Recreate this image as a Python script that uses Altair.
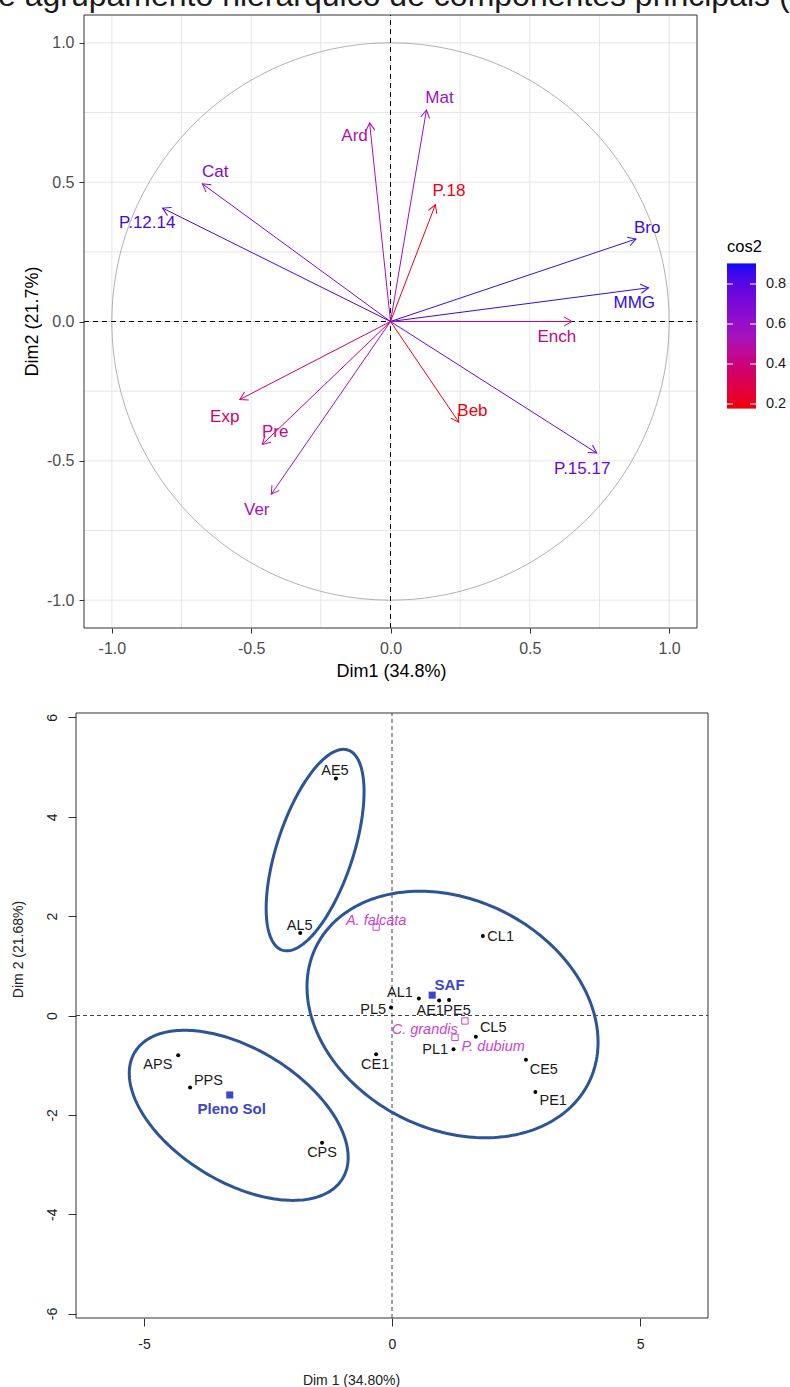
import numpy as np
import pandas as pd
import altair as alt

FONT = "Liberation Sans"
MINUS = "\u2212"

caption = ["e agrupamento hierárquico de componentes principais ("]

# ---------------- top panel: variables (correlation circle) ----------------
var_names = ["Ard", "Mat", "P.18", "Bro", "MMG", "Ench", "Cat", "P.12.14",
             "Exp", "Pre", "Ver", "Beb", "P.15.17"]
var_dim1 = [-0.075, 0.129, 0.161, 0.881, 0.926, 0.651, -0.675, -0.818,
            -0.541, -0.460, -0.428, 0.245, 0.740]
var_dim2 = [0.713, 0.759, 0.419, 0.296, 0.121, 0.000, 0.494, 0.407,
            -0.280, -0.441, -0.620, -0.361, -0.472]
var_cos2 = [0.51, 0.59, 0.20, 0.86, 0.87, 0.42, 0.70, 0.84,
            0.37, 0.41, 0.57, 0.19, 0.77]
var_label_dim1 = [-0.129, 0.176, 0.210, 0.921, 0.875, 0.597, -0.629, -0.873,
                  -0.595, -0.414, -0.480, 0.294, 0.688]
var_label_dim2 = [0.667, 0.803, 0.470, 0.337, 0.065, -0.054, 0.538, 0.355,
                  -0.344, -0.398, -0.677, -0.323, -0.530]

top_domain = [-1.1, 1.1]
top_ticks = [-1.0, -0.5, 0.0, 0.5, 1.0]
top_minor = [-0.75, -0.25, 0.25, 0.75]
cos2_domain = [0.18, 0.54, 0.90]
cos2_colors = ["#F00000", "#A514BE", "#0A0AF5"]
cos2_ticks = [0.2, 0.4, 0.6, 0.8]
legend_title = ["cos2"]

# ---------------- bottom panel: individuals ----------------
ind_names = ["AE5", "AL5", "PL5", "AL1", "AE1", "PE5", "CL5", "PL1", "CE1",
             "CL1", "CE5", "PE1", "APS", "PPS", "CPS"]
ind_dim1 = [-1.13, -1.85, -0.02, 0.54, 0.95, 1.15, 1.69, 1.24, -0.32,
            1.83, 2.70, 2.89, -4.31, -4.07, -1.41]
ind_dim2 = [4.77, 1.66, 0.16, 0.34, 0.30, 0.31, -0.43, -0.68, -0.78,
            1.60, -0.89, -1.54, -0.80, -1.45, -2.56]
ind_label_dim1 = [-1.15, -1.86, -0.38, 0.16, 0.77, 1.31, 2.04, 0.87, -0.34,
                  2.19, 3.06, 3.25, -4.72, -3.70, -1.41]
ind_label_dim2 = [4.93, 1.81, 0.12, 0.46, 0.10, 0.10, -0.26, -0.70, -0.99,
                  1.59, -1.09, -1.73, -0.99, -1.31, -2.76]

sp_names = ["A. falcata", "C. grandis", "P. dubium"]
sp_dim1 = [-0.32, 1.27, 1.47]
sp_dim2 = [1.78, -0.44, -0.11]
sp_label_dim1 = [-0.32, 0.66, 2.04]
sp_label_dim2 = [1.91, -0.30, -0.64]

grp_names = ["SAF", "Pleno Sol"]
grp_dim1 = [0.81, -3.27]
grp_dim2 = [0.41, -1.60]
grp_label_dim1 = [1.16, -3.23]
grp_label_dim2 = [0.62, -1.89]

ell_center1 = [-1.55, 1.22, -3.09]
ell_center2 = [3.33, 0.02, -2.01]
ell_semi_major = [2.12, 3.07, 2.45]
ell_semi_minor = [0.77, 2.31, 1.34]
ell_angle_deg = [71.8, -26.6, -31.3]

bot_xdomain = [-6.37, 6.37]
bot_ydomain = [-6.09, 6.09]
bot_xticks = [-5, 0, 5]
bot_yticks = [-6, -4, -2, 0, 2, 4, 6]

# ---------------- scales / axes ----------------
xs_t = alt.Scale(domain=top_domain, range=[84, 697], nice=False, zero=False)
ys_t = alt.Scale(domain=top_domain, range=[628, 15], nice=False, zero=False)
lab1 = f"replace(format(datum.value, '.1f'), '{MINUS}', '-')"
lab0 = f"replace(format(datum.value, 'd'), '{MINUS}', '-')"

ax_tx = alt.Axis(orient="bottom", offset=-759, values=top_ticks, grid=False, domain=False,
                 tickSize=5, tickColor="#333333", labelFont=FONT, labelFontSize=16,
                 labelColor="#4D4D4D", labelPadding=7, labelExpr=lab1, labelFlush=False,
                 labelOverlap=False, title="Dim1 (34.8%)", titleFont=FONT, titleFontSize=18,
                 titleFontWeight="normal", titleColor="#000000", titleX=391, titleY=43,
                 titleAlign="center", titleBaseline="middle")
ax_ty = alt.Axis(orient="left", offset=-84, values=top_ticks, grid=False, domain=False,
                 tickSize=5, tickColor="#333333", labelFont=FONT, labelFontSize=16,
                 labelColor="#4D4D4D", labelPadding=5, labelExpr=lab1, labelFlush=False,
                 labelOverlap=False, title="Dim2 (21.7%)", titleFont=FONT, titleFontSize=18,
                 titleFontWeight="normal", titleColor="#000000", titleX=-52, titleY=321,
                 titleAngle=270, titleAlign="center", titleBaseline="middle")


def XT(f):
    return alt.X(f, type="quantitative", scale=xs_t, axis=ax_tx)


def YT(f):
    return alt.Y(f, type="quantitative", scale=ys_t, axis=ax_ty)


cos2_scale = alt.Scale(domain=cos2_domain, range=cos2_colors, interpolate="lab")


def C(f):
    return alt.Color(f, type="quantitative", scale=cos2_scale, legend=None)


lo, hi = top_domain
df_vgrid = pd.DataFrame({"gx": top_ticks + top_minor, "ylo": lo, "yhi": hi})
df_hgrid = pd.DataFrame({"gy": top_ticks + top_minor, "xlo": lo, "xhi": hi})
vgrid = alt.Chart(df_vgrid).mark_rule(color="#E6E6E6", strokeWidth=1).encode(
    x=XT("gx"), y=YT("ylo"), y2="yhi")
hgrid = alt.Chart(df_hgrid).mark_rule(color="#E6E6E6", strokeWidth=1).encode(
    y=YT("gy"), x=XT("xlo"), x2="xhi")

t = np.linspace(0, 2 * np.pi, 361)
df_circle = pd.DataFrame({"cx": np.cos(t), "cy": np.sin(t), "i": np.arange(len(t))})
circle = alt.Chart(df_circle).mark_line(color="#A8A8A8", strokeWidth=0.9).encode(
    x=XT("cx"), y=YT("cy"), order="i:Q")

df_zero_t = pd.DataFrame({"x1": [0.0, lo], "x2": [0.0, hi], "y1": [lo, 0.0], "y2": [hi, 0.0]})
zero_t = alt.Chart(df_zero_t).mark_rule(color="black", strokeWidth=1, strokeDash=[5, 4]).encode(
    x=XT("x1"), x2="x2", y=YT("y1"), y2="y2")

df_frame_t = pd.DataFrame({"x1": [lo], "x2": [hi], "y1": [lo], "y2": [hi]})
frame_t = alt.Chart(df_frame_t).mark_rect(fillOpacity=0, stroke="#333333", strokeWidth=1).encode(
    x=XT("x1"), x2="x2", y=YT("y1"), y2="y2")

df_var = pd.DataFrame({"name": var_names, "x": var_dim1, "y": var_dim2, "cos2": var_cos2,
                       "lx": var_label_dim1, "ly": var_label_dim2, "x0": 0.0, "y0": 0.0})
arrows = alt.Chart(df_var).mark_rule(strokeWidth=1).encode(
    x=XT("x0"), y=YT("y0"), x2="x", y2="y", color=C("cos2"))
heads = alt.Chart(df_var).mark_point(
    shape="M -0.5 0.866 L 0 0 L 0.5 0.866", filled=False, size=324, strokeWidth=1, opacity=1
).transform_calculate(
    ang="(atan2(datum.x, datum.y) * 180 / PI + 360) % 360"
).encode(x=XT("x"), y=YT("y"), color=C("cos2"), angle=alt.Angle("ang:Q", scale=None))
var_labels = alt.Chart(df_var).mark_text(font=FONT, fontSize=17, align="center",
                                         baseline="middle").encode(
    x=XT("lx"), y=YT("ly"), text="name", color=C("cos2"))

cap = alt.Chart(pd.DataFrame({"caption": caption})).mark_text(
    font=FONT, fontSize=32, align="left", baseline="alphabetic", color="#1A1A1A"
).encode(x=alt.value(-2), y=alt.value(6), text="caption")

top = alt.layer(vgrid, hgrid, circle, zero_t, frame_t, arrows, heads, var_labels, cap)

# ---------------- colour bar (cos2) ----------------
leg_y = alt.Scale(domain=[cos2_domain[0], cos2_domain[-1]], range=[408, 264],
                  nice=False, zero=False)


def YL(f):
    return alt.Y(f, type="quantitative", scale=leg_y, axis=None)


gv = np.linspace(cos2_domain[0] + 0.0025, cos2_domain[-1] - 0.0025, 145)
df_grad = pd.DataFrame({"v": gv})
grad = alt.Chart(df_grad).mark_rule(strokeWidth=2.2, opacity=1).encode(
    y=YL("v"), x=alt.value(727), x2=alt.value(756), color=C("v"))
df_lt = pd.DataFrame({"v": cos2_ticks})
tick_l = alt.Chart(df_lt).mark_rule(color="white", strokeWidth=1).encode(
    y=YL("v"), x=alt.value(727), x2=alt.value(733))
tick_r = alt.Chart(df_lt).mark_rule(color="white", strokeWidth=1).encode(
    y=YL("v"), x=alt.value(750), x2=alt.value(756))
leg_labels = alt.Chart(df_lt).mark_text(font=FONT, fontSize=14.5, color="#1A1A1A", align="left",
                                        baseline="middle").encode(
    y=YL("v"), x=alt.value(766), text=alt.Text("v:Q", format=".1f"))
leg_title = alt.Chart(pd.DataFrame({"t": legend_title})).mark_text(
    font=FONT, fontSize=16.5, color="#000000", align="left", baseline="middle"
).encode(x=alt.value(727), y=alt.value(247), text="t")

legend_group = alt.layer(grad, tick_l, tick_r, leg_labels, leg_title)

# ---------------- bottom panel ----------------
xs_b = alt.Scale(domain=bot_xdomain, range=[76, 708], nice=False, zero=False)
ys_b = alt.Scale(domain=bot_ydomain, range=[1318, 713], nice=False, zero=False)
ax_bx = alt.Axis(orient="bottom", offset=-69, values=bot_xticks, grid=False, domain=False,
                 tickSize=8, tickColor="#333333", labelFont=FONT, labelFontSize=14,
                 labelColor="#222222", labelPadding=11, labelExpr=lab0, labelFlush=False,
                 labelOverlap=False, title="Dim 1 (34.80%)", titleFont=FONT, titleFontSize=14,
                 titleFontWeight="normal", titleColor="#222222", titleX=351, titleY=62,
                 titleAlign="center", titleBaseline="middle")
ax_by = alt.Axis(orient="left", offset=-76, values=bot_yticks, grid=False, domain=False,
                 tickSize=8, tickColor="#333333", labelFont=FONT, labelFontSize=14,
                 labelColor="#222222", labelPadding=9, labelExpr=lab0, labelFlush=False,
                 labelOverlap=False, labelAngle=270, labelAlign="center", labelBaseline="bottom",
                 title="Dim 2 (21.68%)", titleFont=FONT, titleFontSize=14,
                 titleFontWeight="normal", titleColor="#222222", titleX=-58, titleY=949,
                 titleAngle=270, titleAlign="center", titleBaseline="middle")


def XB(f):
    return alt.X(f, type="quantitative", scale=xs_b, axis=ax_bx)


def YB(f):
    return alt.Y(f, type="quantitative", scale=ys_b, axis=ax_by)


bx0, bx1 = bot_xdomain
by0, by1 = bot_ydomain
df_frame_b = pd.DataFrame({"x1": [bx0], "x2": [bx1], "y1": [by0], "y2": [by1]})
frame_b = alt.Chart(df_frame_b).mark_rect(fillOpacity=0, stroke="#333333", strokeWidth=1).encode(
    x=XB("x1"), x2="x2", y=YB("y1"), y2="y2")
df_zero_b = pd.DataFrame({"x1": [0.0, bx0], "x2": [0.0, bx1], "y1": [by0, 0.0], "y2": [by1, 0.0]})
zero_b = alt.Chart(df_zero_b).mark_rule(color="#444444", strokeWidth=1, strokeDash=[4, 3]).encode(
    x=XB("x1"), x2="x2", y=YB("y1"), y2="y2")

rows = []
tt = np.linspace(0, 2 * np.pi, 241)
for k in range(len(ell_center1)):
    phi = np.deg2rad(ell_angle_deg[k])
    a, b = ell_semi_major[k], ell_semi_minor[k]
    ex = ell_center1[k] + a * np.cos(tt) * np.cos(phi) - b * np.sin(tt) * np.sin(phi)
    ey = ell_center2[k] + a * np.cos(tt) * np.sin(phi) + b * np.sin(tt) * np.cos(phi)
    for i in range(len(tt)):
        rows.append({"g": k, "i": i, "ex": ex[i], "ey": ey[i]})
df_ell = pd.DataFrame(rows)
ellipses = alt.Chart(df_ell).mark_line(color="#2B5597", strokeWidth=3).encode(
    x=XB("ex"), y=YB("ey"), detail="g:N", order="i:Q")

df_ind = pd.DataFrame({"name": ind_names, "x": ind_dim1, "y": ind_dim2,
                       "lx": ind_label_dim1, "ly": ind_label_dim2})
dots = alt.Chart(df_ind).mark_circle(color="black", size=16, opacity=1).encode(
    x=XB("x"), y=YB("y"))
dot_labels = alt.Chart(df_ind).mark_text(font=FONT, fontSize=14.5, color="#1A1A1A",
                                         align="center", baseline="middle").encode(
    x=XB("lx"), y=YB("ly"), text="name")

df_sp = pd.DataFrame({"name": sp_names, "x": sp_dim1, "y": sp_dim2,
                      "lx": sp_label_dim1, "ly": sp_label_dim2})
sp_pts = alt.Chart(df_sp).mark_point(shape="square", filled=False, color="#CC44CC", size=40,
                                     strokeWidth=1, opacity=1).encode(x=XB("x"), y=YB("y"))
sp_labels = alt.Chart(df_sp).mark_text(font=FONT, fontSize=14.5, fontStyle="italic",
                                       color="#CC44CC", align="center", baseline="middle").encode(
    x=XB("lx"), y=YB("ly"), text="name")

df_grp = pd.DataFrame({"name": grp_names, "x": grp_dim1, "y": grp_dim2,
                       "lx": grp_label_dim1, "ly": grp_label_dim2})
grp_pts = alt.Chart(df_grp).mark_square(color="#3D45C8", size=50, opacity=1).encode(
    x=XB("x"), y=YB("y"))
grp_labels = alt.Chart(df_grp).mark_text(font=FONT, fontSize=15, fontWeight="bold",
                                         color="#3D45C8", align="center",
                                         baseline="middle").encode(
    x=XB("lx"), y=YB("ly"), text="name")

bottom = alt.layer(zero_b, ellipses, frame_b, dots, dot_labels, sp_pts, sp_labels,
                   grp_pts, grp_labels)

chart = alt.layer(top, legend_group, bottom).resolve_scale(
    x="independent", y="independent"
).properties(
    width=790, height=1387, padding=0, background="white",
    autosize=alt.AutoSizeParams(type="none")
).configure_view(stroke=None)

chart.save("out.html", embed_options={"renderer": "svg", "actions": False})
